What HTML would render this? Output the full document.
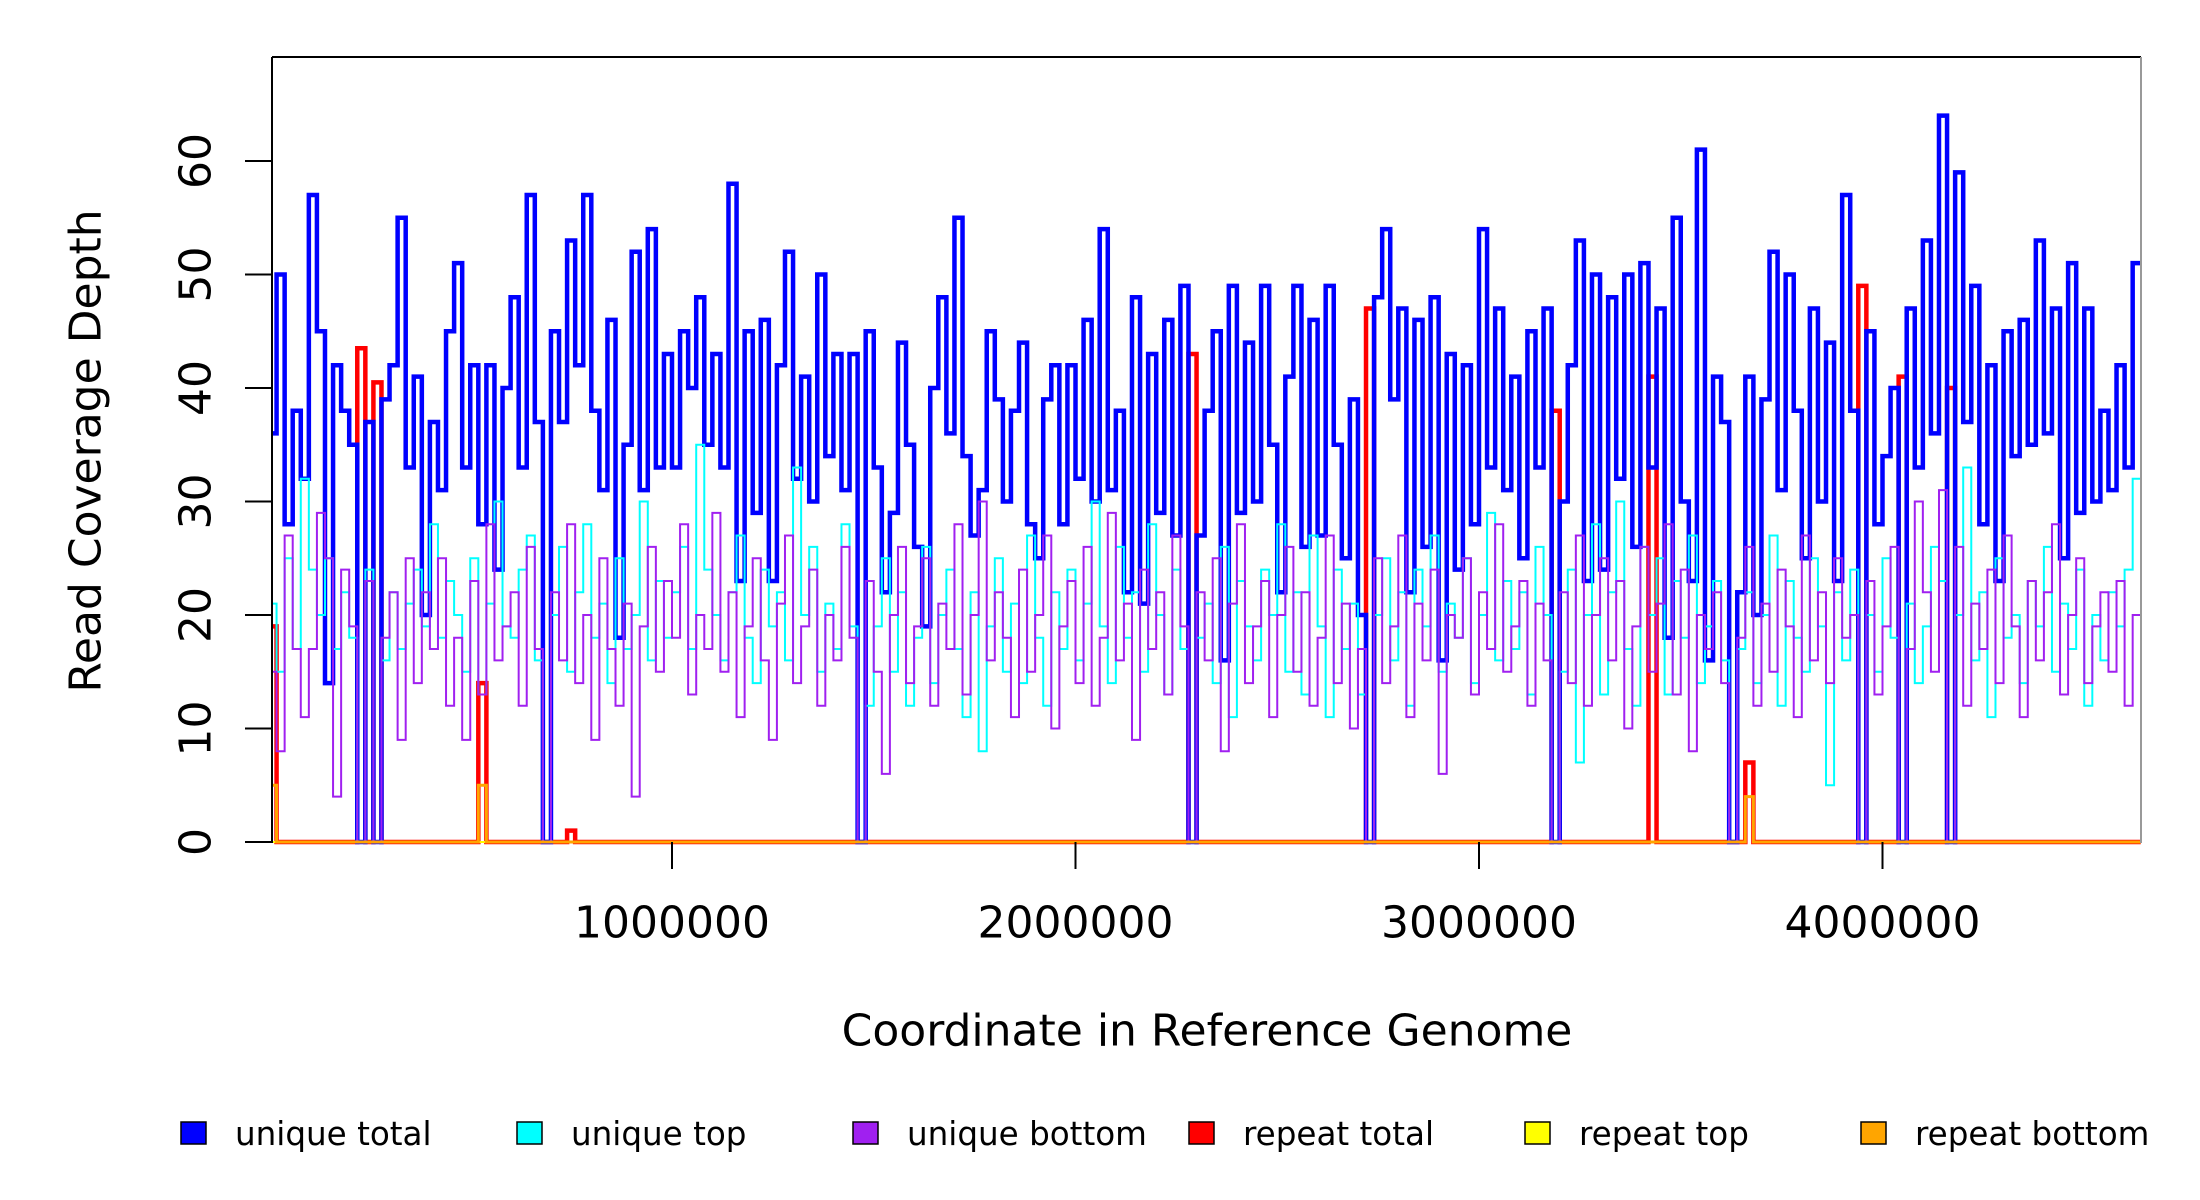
<!DOCTYPE html>
<html><head><meta charset="utf-8"><style>
html,body{margin:0;padding:0;background:#fff;}
svg{display:block;font-family:"DejaVu Sans","Liberation Sans",sans-serif;}
</style></head><body>
<svg id="chart" width="2200" height="1200" viewBox="0 0 2200 1200" xmlns="http://www.w3.org/2000/svg">
<defs><clipPath id="pc"><rect x="272" y="57" width="1869" height="788"/></clipPath></defs>
<g id="series" clip-path="url(#pc)"></g>
<line x1="272" y1="57" x2="2141" y2="57" stroke="#000" stroke-width="2"/>
<line x1="272" y1="57" x2="272" y2="843" stroke="#000" stroke-width="2"/>
<line x1="2141" y1="57" x2="2141" y2="843" stroke="#999" stroke-width="2"/>
<g id="yticks"></g>
<g id="xticks"></g>
<text x="86" y="451" transform="rotate(-90 86 451)" text-anchor="middle" dominant-baseline="central" font-size="44">Read Coverage Depth</text>
<text x="1207" y="1031" text-anchor="middle" dominant-baseline="central" font-size="44">Coordinate in Reference Genome</text>
<g id="legend"></g>
</svg>
<script>
const binSize = 20000;
const uniqueTotal = [36,50,28,38,32,57,45,14,42,38,35,0,37,0,
39,42,55,33,41,20,37,31,45,51,33,42,28,42,24,40,48,33,57,37,0,
45,37,53,42,57,38,31,46,18,35,52,31,54,33,43,33,45,40,48,35,43,33,58,23,45,29,46,23,42,52,32,41,30,50,34,43,31,43,0,
45,33,22,29,44,35,26,19,40,48,36,55,34,27,31,45,39,30,38,44,28,25,39,42,28,42,32,46,30,54,31,38,22,48,21,43,29,46,27,49,0,
27,38,45,16,49,29,44,30,49,35,22,41,49,26,46,27,49,35,25,39,20,0,
48,54,39,47,22,46,26,48,16,43,24,42,28,54,33,47,31,41,25,45,33,47,0,
30,42,53,23,50,24,48,32,50,26,51,33,47,18,55,30,23,61,16,41,37,0,
22,41,20,39,52,31,50,38,25,47,30,44,23,57,38,0,
45,28,34,40,0,47,33,53,36,64,0,
59,37,49,28,42,23,45,34,46,35,53,36,47,25,51,29,47,30,38,31,42,33,51];
const uniqueTop = [21,15,25,17,32,24,20,25,17,22,18,0,24,0,
16,22,17,21,24,19,28,18,23,20,15,25,13,21,30,19,18,24,27,16,0,
20,26,15,22,28,18,21,14,25,17,20,30,16,23,18,22,26,17,35,24,20,16,22,27,18,14,24,19,22,16,33,20,26,15,21,17,28,19,0,
12,19,25,15,22,12,18,26,14,20,24,17,11,22,8,19,25,15,21,14,27,18,12,22,17,24,16,21,30,19,14,26,18,22,15,28,20,13,24,17,0,
18,21,14,26,11,23,19,16,24,20,28,15,22,13,27,19,11,24,17,21,13,0,
20,25,16,22,12,24,19,27,15,21,18,25,14,20,29,16,23,17,22,13,26,20,0,
15,24,7,20,28,13,22,30,17,12,26,20,25,13,23,18,27,14,19,23,16,0,
17,22,14,20,27,12,23,18,15,25,19,5,22,16,24,0,
20,15,25,18,0,21,14,19,26,23,0,
20,33,16,22,11,25,18,20,14,23,19,26,15,21,17,24,12,20,16,22,19,24,32];
const uniqueBottom = [15,8,27,17,11,17,29,25,4,24,19,0,23,0,
18,22,9,25,14,22,17,25,12,18,9,23,13,28,16,19,22,12,26,17,0,
22,16,28,14,20,9,25,17,12,21,4,19,26,15,23,18,28,13,20,17,29,15,22,11,19,25,16,9,21,27,14,19,24,12,20,16,26,18,0,
23,15,6,20,26,14,19,25,12,21,17,28,13,20,30,16,22,18,11,24,15,20,27,10,19,23,14,26,12,18,29,16,21,9,24,17,22,13,27,19,0,
22,16,25,8,21,28,14,19,23,11,20,26,15,22,12,18,27,14,21,10,17,0,
25,14,19,27,11,21,16,24,6,20,18,25,13,22,17,28,15,19,23,12,21,16,0,
22,14,27,12,20,25,16,23,10,19,26,15,21,28,13,24,8,20,17,22,14,0,
18,26,12,21,15,24,19,11,27,16,22,14,25,18,20,0,
23,13,19,26,0,17,30,22,15,31,0,
26,12,21,17,24,14,27,19,11,23,16,22,28,13,20,25,14,19,22,15,23,12,20];
const repeatBins = [0,11,13,26,37,114,136,159,171,183,197,202,208];
const repeatTotal = [19,43.5,40.5,14,1,43,47,38,41,7,49,41,40];
const repeatTop = [0,0,0,0,0,0,0,0,0,4,0,0,0];
const repeatBottom = [5,0,0,5,0,0,0,0,0,4,0,0,0];
const yTicks = [0,10,20,30,40,50,60];
const xTicks = [1000000,2000000,3000000,4000000];
const legendLabels = ["unique total","unique top","unique bottom","repeat total","repeat top","repeat bottom"];
const legendColors = ["#0000ff","#00ffff","#a020f0","#ff0000","#ffff00","#ffa500"];

const NS = "http://www.w3.org/2000/svg";
function xs(g){ return 268.5 + g * 403.5e-6; }
function ys(v){ return 842 - v * 11.35; }
function mk(tag, attrs, parent){
  const e = document.createElementNS(NS, tag);
  for (const k in attrs) e.setAttribute(k, attrs[k]);
  parent.appendChild(e);
  return e;
}
function stepPath(vals){
  let d = "M" + xs(0) + "," + ys(vals[0]);
  for (let i = 0; i < vals.length; i++){
    d += " L" + xs(i*binSize).toFixed(2) + "," + ys(vals[i]).toFixed(2);
    d += " L" + xs((i+1)*binSize).toFixed(2) + "," + ys(vals[i]).toFixed(2);
  }
  return d;
}
function sparse(vals){
  const a = new Array(uniqueTotal.length).fill(0);
  repeatBins.forEach((b, i) => { a[b] = vals[i]; });
  return a;
}
const sg = document.getElementById("series");
const seriesList = [
  [sparse(repeatTotal), "#ff0000", 4.5, "repeat-total-line"],
  [sparse(repeatTop), "#ffff00", 2, "repeat-top-line"],
  [uniqueTotal, "#0000ff", 4.5, "unique-total-line"],
  [uniqueTop, "#00ffff", 2, "unique-top-line"],
  [uniqueBottom, "#a020f0", 2, "unique-bottom-line"],
  [sparse(repeatBottom), "#ffa500", 3, "repeat-bottom-line"]
];
seriesList.forEach(s => {
  const p = mk("path", {d: stepPath(s[0]), fill: "none", stroke: s[1], "stroke-width": s[2], "stroke-linejoin": "miter"}, sg);
  
  
});
const yg = document.getElementById("yticks");
yTicks.forEach(v => {
  const l = mk("line", {x1: 245, y1: ys(v), x2: 272, y2: ys(v), stroke: "#000", "stroke-width": 2}, yg);
  
  
  const t = mk("text", {x: 196, y: ys(v), "text-anchor": "middle", "dominant-baseline": "central", "font-size": 44, transform: "rotate(-90 196 " + ys(v) + ")"}, yg);
  t.textContent = v;
  
  
});
const xg = document.getElementById("xticks");
xTicks.forEach(v => {
  const l = mk("line", {x1: xs(v), y1: 842, x2: xs(v), y2: 869, stroke: "#000", "stroke-width": 2}, xg);
  
  
  const t = mk("text", {x: xs(v), y: 923, "text-anchor": "middle", "dominant-baseline": "central", "font-size": 44}, xg);
  t.textContent = v;
  
  
});
const lg = document.getElementById("legend");
legendLabels.forEach((lab, i) => {
  const bx = 181 + i * 336;
  const r = mk("rect", {x: bx, y: 1122, width: 25, height: 22, fill: legendColors[i], stroke: "#000", "stroke-width": 1.5}, lg);
  
  
  const t = mk("text", {x: bx + 54, y: 1134, "dominant-baseline": "central", "font-size": 32.6}, lg);
  t.textContent = lab;
  
  
});
</script>
</body></html>
